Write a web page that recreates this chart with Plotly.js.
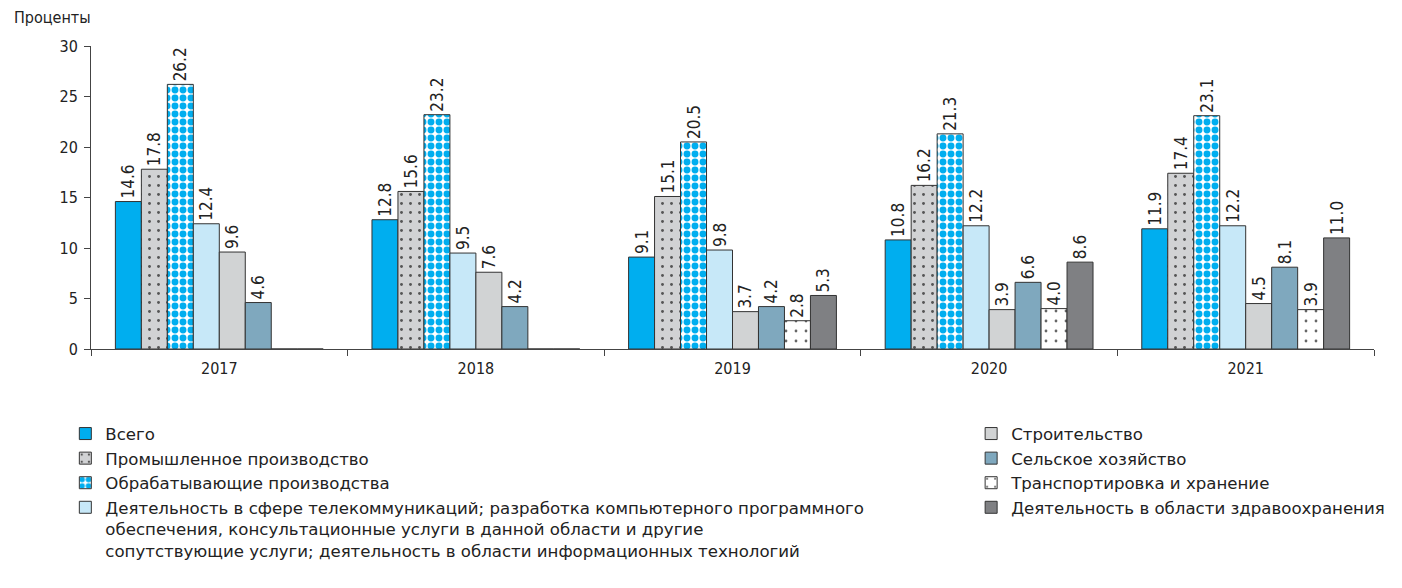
<!DOCTYPE html>
<html>
<head>
<meta charset="utf-8">
<script src="https://cdn.plot.ly/plotly-3.0.1.min.js"></script>
<style>html,body{margin:0;padding:0;background:#fff;}#chart{width:1402px;height:588px;}</style>
</head>
<body>
<div id="chart"></div>
<script>
const years = ['2017', '2018', '2019', '2020', '2021'];
const seriesNames = [
  'Всего',
  'Промышленное производство',
  'Обрабатывающие производства',
  'Деятельность в сфере телекоммуникаций; разработка компьютерного программного<br>обеспечения, консультационные услуги в данной области и другие<br>сопутствующие услуги; деятельность в области информационных технологий',
  'Строительство',
  'Сельское хозяйство',
  'Транспортировка и хранение',
  'Деятельность в области здравоохранения'
];
const vsego = [14.6, 12.8, 9.1, 10.8, 11.9];
const prom = [17.8, 15.6, 15.1, 16.2, 17.4];
const obrab = [26.2, 23.2, 20.5, 21.3, 23.1];
const telecom = [12.4, 9.5, 9.8, 12.2, 12.2];
const stroit = [9.6, 7.6, 3.7, 3.9, 4.5];
const selsk = [4.6, 4.2, 4.2, 6.6, 8.1];
const transport = [null, null, 2.8, 4.0, 3.9];
const zdrav = [null, null, 5.3, 8.6, 11.0];

const values = [vsego, prom, obrab, telecom, stroit, selsk, transport, zdrav];
const colors = ['#00aeef', '#d1d2d4', '#ffffff', '#c7e8f8', '#d1d3d4', '#7fa8be', '#ffffff', '#7f8083'];
const patterns = [
  null,
  {shape: '.', fgcolor: '#555555', bgcolor: '#d1d2d4', size: 9, solidity: 0.08},
  {shape: '.', fgcolor: '#00aeef', bgcolor: '#ffffff', size: 8, solidity: 0.58},
  null, null, null,
  {shape: '.', fgcolor: '#666666', bgcolor: '#ffffff', size: 10, solidity: 0.06},
  null
];
const legendOf = ['legend', 'legend', 'legend', 'legend', 'legend2', 'legend2', 'legend2', 'legend2'];

const narrow = 'Liberation Sans Narrow, Arial Narrow, DejaVu Sans Condensed, sans-serif';
const numFont = {family: narrow, size: 17, color: '#222'};
const tickFont = {family: narrow, size: 16, color: '#222'};

const traces = values.map((vals, i) => {
  const t = {
    type: 'bar',
    name: seriesNames[i],
    x: years,
    y: vals.map(v => v === null ? 0 : v),
    text: vals.map(v => v === null ? '' : v.toFixed(1)),
    textposition: 'outside',
    textangle: -90,
    constraintext: 'none',
    textfont: numFont,
    cliponaxis: false,
    marker: {color: colors[i], line: {color: '#333333', width: 1}},
    legend: legendOf[i],
    hoverinfo: 'x+y+name'
  };
  if (patterns[i]) t.marker.pattern = patterns[i];
  return t;
});

const legendFont = {family: 'DejaVu Sans, Noto Sans, sans-serif', size: 16.6, color: '#222'};

const layout = {
  width: 1402,
  height: 588,
  margin: {l: 91, r: 24, t: 46, b: 239},
  paper_bgcolor: '#ffffff',
  plot_bgcolor: '#ffffff',
  barmode: 'group',
  bargap: 0.19,
  bargroupgap: 0,
  showlegend: true,
  font: tickFont,
  xaxis: {
    type: 'category',
    showline: true,
    linecolor: '#444',
    linewidth: 1,
    ticks: 'outside',
    tickson: 'boundaries',
    ticklen: 6,
    tickcolor: '#444',
    tickfont: tickFont,
    ticklabelstandoff: 5,
    showgrid: false,
    zeroline: false
  },
  yaxis: {
    range: [0, 30],
    dtick: 5,
    showline: true,
    linecolor: '#444',
    linewidth: 1,
    ticks: 'outside',
    ticklen: 6,
    tickcolor: '#444',
    tickfont: tickFont,
    ticklabelstandoff: 3,
    showgrid: false,
    zeroline: false
  },
  legend: {
    x: -0.02, xref: 'paper', y: -0.222, yanchor: 'top', xanchor: 'left', valign: 'top',
    font: legendFont, tracegroupgap: 0, itemwidth: 30, bgcolor: 'rgba(0,0,0,0)'
  },
  legend2: {
    x: 0.686, xref: 'paper', y: -0.222, yanchor: 'top', xanchor: 'left', valign: 'top',
    font: legendFont, tracegroupgap: 0, itemwidth: 30, bgcolor: 'rgba(0,0,0,0)'
  },
  annotations: [{
    text: 'Проценты', xref: 'paper', yref: 'paper', x: -79 / 1287, y: 1 + 28 / 303,
    xanchor: 'left', yanchor: 'middle', showarrow: false,
    font: {family: narrow, size: 16, color: '#222'}
  }]
};

Plotly.newPlot('chart', traces, layout, {displayModeBar: false, staticPlot: true});
</script>
</body>
</html>
